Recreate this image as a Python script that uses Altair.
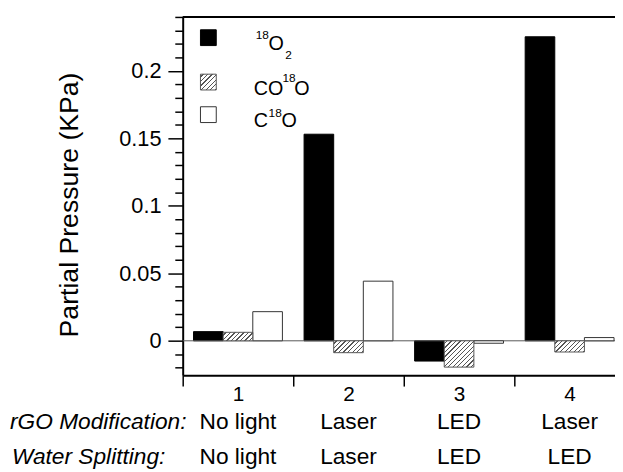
import altair as alt
import pandas as pd

# ---------------- data ----------------
categories = [1, 2, 3, 4]
series_names = ["18O2", "CO18O", "C18O"]
o2_values = [0.0068, 0.1531, -0.0150, 0.2253]
co18o_values = [0.0063, -0.0088, -0.0195, -0.0083]
c18o_values = [0.0216, 0.0442, -0.0018, 0.0024]
rgo_labels = ["No light", "Laser", "LED", "Laser"]
ws_labels = ["No light", "Laser", "LED", "LED"]
y_tick_values = [-0.02, -0.01, 0, 0.01, 0.02, 0.03, 0.04, 0.05, 0.06, 0.07, 0.08,
                 0.09, 0.1, 0.11, 0.12, 0.13, 0.14, 0.15, 0.16, 0.17, 0.18, 0.19,
                 0.2, 0.21, 0.22, 0.23, 0.24]
x_tick_values = [0.5, 1.5, 2.5, 3.5]

# ---------------- layout / style ----------------
W, H = 438, 363
PX_PER_X = 112.0
X0 = 0.5
X1 = X0 + W / PX_PER_X
Y0, Y1 = -0.0255, 0.24
PX_PER_Y = H / (Y1 - Y0)
BAR = 0.268
BAR_PX = BAR * PX_PER_X
FONT = "Liberation Sans"

rows = []
for s_i, (name, vals) in enumerate(zip(series_names, [o2_values, co18o_values, c18o_values])):
    for c, v in zip(categories, vals):
        rows.append({"cat": c, "series": name, "slot": s_i, "value": v})
df = pd.DataFrame(rows)
df_rows = pd.DataFrame({"cat": categories, "rgo": rgo_labels, "ws": ws_labels})
one = pd.DataFrame({"k": [0]})

xscale = alt.Scale(domain=[X0, X1], nice=False, zero=False)
yscale = alt.Scale(domain=[Y0, Y1], nice=False, zero=False)


def hatch(w, h, period=4.6, lw=1.3, color="#555555", bg="white"):
    L = w + h
    denom = w * w + h * h
    x2 = w * L / denom
    y2 = h * L / denom
    stops = [{"offset": 0, "color": bg}]
    pos = period * 0.5
    while pos < L:
        a = pos / L
        b = min((pos + lw) / L, 1.0)
        stops += [{"offset": a, "color": bg}, {"offset": a, "color": color},
                  {"offset": b, "color": color}, {"offset": b, "color": bg}]
        pos += period
    stops.append({"offset": 1, "color": bg})
    return {"gradient": "linear", "x1": 0, "y1": 0, "x2": x2, "y2": y2, "stops": stops}


is_major = "abs(round(datum.value * 100)) % 5 == 0"
yaxis = alt.Axis(
    values=y_tick_values,
    title="Partial Pressure (KPa)",
    labelExpr=f"{is_major} ? format(datum.value, '~g') : ''",
    tickSize={"condition": {"test": is_major, "value": 15}, "value": 8},
    labelPadding=7,
    labelFontSize=22,
    titleFontSize=27,
    titleFontWeight="normal",
    titleX=-115,
    titleY=H / 2 + 8.5,
    titleBaseline="middle",
    titleAngle=270,
    domainWidth=2,
    tickWidth=1.5,
    grid=False,
    labelOverlap=False,
    labelFlush=False,
)
xaxis = alt.Axis(
    values=x_tick_values,
    labelExpr="format(datum.value + 0.5, 'd')",
    labelOffset=PX_PER_X / 2,
    tickSize=11,
    labelPadding=-2,
    labelFontSize=21,
    title=None,
    domainWidth=2,
    tickWidth=1.5,
    grid=False,
    labelFlush=False,
    labelOverlap=False,
)

base = alt.Chart(df).transform_calculate(
    xs=f"datum.cat + (datum.slot - 1) * {BAR} - {BAR / 2}",
    xe=f"datum.cat + (datum.slot - 1) * {BAR} + {BAR / 2}",
)

layers = []

# black bars (first layer, carries both axes)
layers.append(
    base.transform_filter("datum.series == '18O2'").mark_rect(
        fill="black", stroke="black", strokeWidth=1
    ).encode(
        x=alt.X("xs:Q", scale=xscale, axis=xaxis),
        x2="xe:Q",
        y=alt.Y("value:Q", scale=yscale, axis=yaxis),
        y2=alt.datum(0),
    )
)

# zero line
layers.append(
    alt.Chart(one).mark_rule(color="#555555", strokeWidth=1).encode(
        y=alt.Y("k:Q", scale=yscale, axis=yaxis)
    )
)

# white bars
layers.append(
    base.transform_filter("datum.series == 'C18O'").mark_rect(
        fill="white", stroke="#333333", strokeWidth=1
    ).encode(
        x=alt.X("xs:Q", scale=xscale, axis=xaxis),
        x2="xe:Q",
        y=alt.Y("value:Q", scale=yscale, axis=yaxis),
        y2=alt.datum(0),
    )
)

# hatched bars (one gradient per bar so stripes stay at 45 degrees)
for c, v in zip(categories, co18o_values):
    h_px = max(abs(v) * PX_PER_Y, 1.0)
    layers.append(
        base.transform_filter(f"datum.series == 'CO18O' && datum.cat == {c}").mark_rect(
            fill=hatch(BAR_PX, h_px), stroke="#555555", strokeWidth=1
        ).encode(
            x=alt.X("xs:Q", scale=xscale, axis=xaxis),
            x2="xe:Q",
            y=alt.Y("value:Q", scale=yscale, axis=yaxis),
            y2=alt.datum(0),
        )
    )

# top frame line
layers.append(
    alt.Chart(one).mark_rule(color="black", strokeWidth=2).encode(
        x=alt.value(0), x2=alt.value(W), y=alt.value(0)
    )
)

# legend squares
for (y_top, y_bot, fill, stroke) in [
    (13, 29, "black", "black"),
    (58, 74, hatch(16, 16), "#555555"),
    (91, 107, "white", "#333333"),
]:
    layers.append(
        alt.Chart(one).mark_rect(fill=fill, stroke=stroke, strokeWidth=1).encode(
            x=alt.value(18), x2=alt.value(34), y=alt.value(y_top), y2=alt.value(y_bot)
        )
    )

# legend text pieces (text, x, baseline y, size)
legend_pieces = [
    ("18", 74, 22.5, 12), ("O", 87, 34, 20), ("2", 104, 43, 12),
    ("CO", 72, 79, 20), ("18", 101, 66, 12), ("O", 113, 79, 20),
    ("C", 72, 112, 20), ("18", 87, 101, 12), ("O", 100, 112, 20),
]
for (t, px, py, fs) in legend_pieces:
    layers.append(
        alt.Chart(one).mark_text(
            align="left", baseline="alphabetic", font=FONT, fontSize=fs, color="black"
        ).encode(x=alt.value(px), y=alt.value(py), text=alt.value(t))
    )

# category rows
for field, ypix in [("rgo", 417), ("ws", 453)]:
    layers.append(
        alt.Chart(df_rows).mark_text(
            align="center", baseline="alphabetic", font=FONT, fontSize=23, color="black"
        ).encode(
            x=alt.X("cat:Q", scale=xscale, axis=xaxis),
            y=alt.value(ypix),
            text=f"{field}:N",
        )
    )

for (t, px, py) in [("rGO Modification:", -175, 417), ("Water Splitting:", -173, 453)]:
    layers.append(
        alt.Chart(one).mark_text(
            align="left", baseline="alphabetic", font=FONT, fontSize=23,
            fontStyle="italic", color="black"
        ).encode(x=alt.value(px), y=alt.value(py), text=alt.value(t))
    )

chart = alt.layer(*layers).properties(
    width=W,
    height=H,
    autosize=alt.AutoSizeParams(type="none"),
    padding={"left": 177, "top": 6, "right": 0, "bottom": 95},
).configure_view(stroke=None).configure_axis(
    labelFont=FONT, titleFont=FONT, labelColor="black", titleColor="black",
    domainColor="black", tickColor="black",
)

chart.save("out.html", embed_options={"renderer": "svg", "actions": False})
